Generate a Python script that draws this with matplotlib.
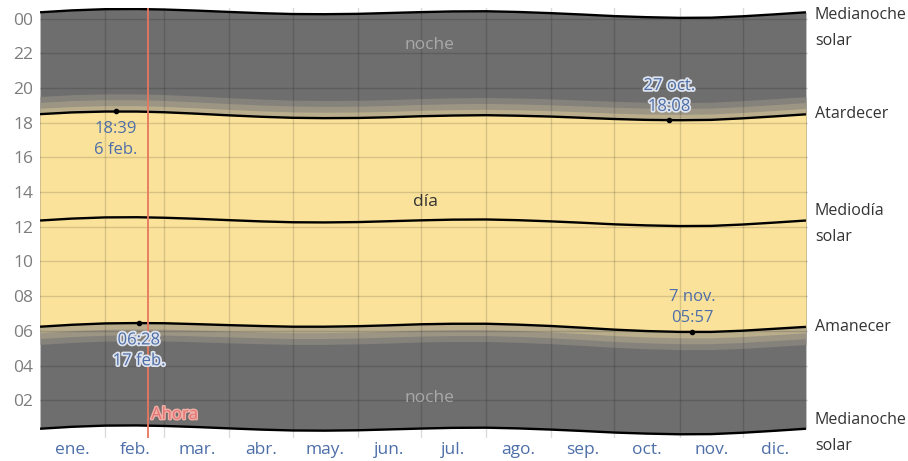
import matplotlib
matplotlib.use("Agg")
import matplotlib.pyplot as plt
import matplotlib.patheffects as pe
import matplotlib.transforms as mtransforms

plt.rcParams['font.family'] = ['Open Sans', 'DejaVu Sans']

# día del año (0 = 1 ene.) y horas
dias = [0, 15, 31, 46, 59, 74, 90, 105, 120, 135, 151, 166, 181,
        196, 212, 227, 243, 258, 273, 288, 304, 319, 334, 349, 364]
amanecer = [6.24, 6.35, 6.43, 6.45, 6.44, 6.39, 6.33, 6.28, 6.24, 6.24, 6.27, 6.32, 6.38,
            6.41, 6.41, 6.36, 6.28, 6.18, 6.07, 5.99, 5.94, 5.94, 6.01, 6.12, 6.23]
mediodia = [12.36, 12.47, 12.54, 12.55, 12.52, 12.46, 12.38, 12.31, 12.26, 12.25, 12.27, 12.32, 12.37,
            12.41, 12.42, 12.38, 12.31, 12.23, 12.14, 12.08, 12.04, 12.05, 12.13, 12.24, 12.36]
atardecer = [18.49, 18.59, 18.64, 18.64, 18.60, 18.52, 18.42, 18.34, 18.28, 18.26, 18.27, 18.31, 18.37,
             18.41, 18.43, 18.40, 18.35, 18.28, 18.21, 18.16, 18.14, 18.16, 18.25, 18.36, 18.48]

meses = ['ene.', 'feb.', 'mar.', 'abr.', 'may.', 'jun.',
         'jul.', 'ago.', 'sep.', 'oct.', 'nov.', 'dic.']
inicio_mes = [0, 31, 59, 90, 120, 151, 181, 212, 243, 273, 304, 334, 365]

# duración acumulada del crepúsculo (h): civil, náutico, astronómico
crepusculo = [0.34, 0.68, 1.02]
colores_crep = ['#b9ad8b', '#9c9584', '#85827b']

ahora = 51.3

# puntos extremos: día, hora, texto, arriba/abajo, con halo
extremos = [
    (36, 18.65, '18:39\n6 feb.', 'abajo', False),
    (47, 6.47, '06:28\n17 feb.', 'abajo', True),
    (299, 18.13, '27 oct.\n18:08', 'arriba', True),
    (310, 5.95, '7 nov.\n05:57', 'arriba', False),
]

c_dia = '#fbe29b'
c_noche = '#6e6e6e'
c_azul = '#4d6ea8'

medianoche_ab = [m - 12 for m in mediodia]
medianoche_ar = [m + 12 for m in mediodia]

fig = plt.figure(figsize=(9.08, 4.61), dpi=100)
ax = fig.add_axes([0.0441, 0.0508, 0.8458, 0.9323])

ax.fill_between(dias, medianoche_ab, medianoche_ar, color=c_noche, lw=0, zorder=1)
for dur, col in zip(crepusculo[::-1], colores_crep[::-1]):
    ax.fill_between(dias, [a - dur for a in amanecer], [s + dur for s in atardecer],
                    color=col, lw=0, zorder=1)
ax.fill_between(dias, amanecer, atardecer, color=c_dia, lw=0, zorder=1)

for serie in (medianoche_ab, amanecer, mediodia, atardecer, medianoche_ar):
    ax.plot(dias, serie, color='black', lw=1.7, zorder=4, solid_capstyle='butt')

ax.axvline(ahora, color='#e8765e', lw=1.3, zorder=5)
ax.text(ahora + 1.5, 1.15, 'Ahora', color='#e47474', fontsize=12, va='center', ha='left',
        zorder=6, path_effects=[pe.withStroke(linewidth=2, foreground='#f0b0a8')])

halo = [pe.withStroke(linewidth=2.5, foreground='#dfe3ec')]
for d, h, txt, pos, con_halo in extremos:
    ax.plot(d, h, 'o', color='black', ms=3, zorder=6)
    if pos == 'abajo':
        ax.annotate(txt, (d, h), xytext=(0, -7), textcoords='offset points', ha='center',
                    va='top', color=c_azul, fontsize=12, linespacing=1.4, zorder=7,
                    path_effects=halo if con_halo else None)
    else:
        ax.annotate(txt, (d, h), xytext=(0, 4), textcoords='offset points', ha='center',
                    va='bottom', color=c_azul, fontsize=12, linespacing=1.4, zorder=7,
                    path_effects=halo if con_halo else None)

ax.text(185, 22.5, 'noche', color='#a9a9a9', fontsize=12.5, ha='center', va='center', zorder=6)
ax.text(185, 2.12, 'noche', color='#a9a9a9', fontsize=12.5, ha='center', va='center', zorder=6)
ax.text(183, 13.45, 'día', color='#333333', fontsize=12.5, ha='center', va='center', zorder=6)

# etiquetas a la derecha
tr = mtransforms.blended_transform_factory(ax.transAxes, ax.transData)
etiquetas = [
    (min(medianoche_ar[-1], 23.45), 'Medianoche\nsolar'),
    (atardecer[-1], 'Atardecer'),
    (mediodia[-1] - 0.2, 'Mediodía\nsolar'),
    (amanecer[-1], 'Amanecer'),
    (medianoche_ab[-1] - 0.25, 'Medianoche\nsolar'),
]
for y, txt in etiquetas:
    ax.text(1.009, y, txt, transform=tr, ha='left', va='center', fontsize=11.5,
            color='#333333', linespacing=1.8, clip_on=False)

ax.set_xlim(0, 365)
ax.set_ylim(-0.15, 24.62)

centros = [(a + b) / 2 for a, b in zip(inicio_mes[:-1], inicio_mes[1:])]
ax.set_xticks(centros)
ax.set_xticklabels(meses)
ax.set_xticks(inicio_mes[1:-1], minor=True)
horas = list(range(2, 25, 2))
ax.set_yticks(horas)
ax.set_yticklabels([f'{h % 24:02d}' for h in horas])

ax.tick_params(axis='x', which='both', length=0, pad=3, labelsize=12.5, labelcolor=c_azul)
ax.tick_params(axis='y', length=0, pad=5, labelsize=12.5, labelcolor='#7d7d7d')
ax.grid(False)
ax.grid(True, axis='x', which='minor', color='black', alpha=0.14, lw=1)
ax.grid(True, axis='y', which='major', color='black', alpha=0.14, lw=1)
ax.set_axisbelow(False)
for s in ax.spines.values():
    s.set_visible(False)

fig.savefig('out.png', dpi=100)
